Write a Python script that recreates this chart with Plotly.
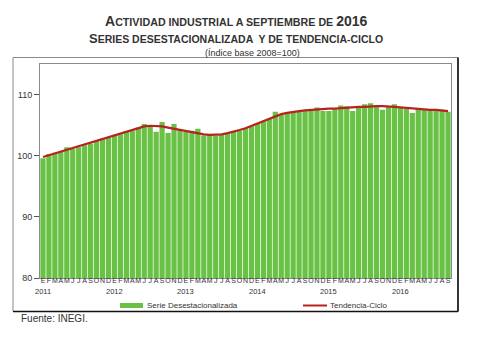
import plotly.graph_objects as go

month_letters = ["E", "F", "M", "A", "M", "J", "J", "A", "S", "O", "N", "D"]
years = [2011, 2012, 2013, 2014, 2015, 2016]

serie_desest = [
    99.6, 100.3, 100.5, 100.6, 101.4, 101.1, 101.4, 101.7, 102.0, 102.4, 102.8, 102.9,
    103.3, 103.5, 104.0, 104.1, 104.6, 105.2, 104.9, 103.9, 105.5, 103.7, 105.2, 104.2,
    104.0, 104.1, 104.4, 103.3, 103.4, 103.3, 103.4, 103.7, 103.9, 104.1, 104.5, 104.8,
    105.3, 105.6, 106.0, 107.2, 106.7, 107.0, 107.1, 107.3, 107.3, 107.5, 107.9, 107.3,
    107.3, 107.6, 108.2, 108.1, 107.3, 107.9, 108.4, 108.6, 108.0, 107.5, 108.0, 108.4,
    107.8, 107.7, 107.0, 107.5, 107.6, 107.5, 107.6, 107.5, 107.2,
]
tendencia = [
    99.8, 100.1, 100.4, 100.7, 100.9, 101.2, 101.5, 101.8, 102.1, 102.4, 102.7, 103.0,
    103.3, 103.6, 103.9, 104.2, 104.5, 104.8, 104.9, 104.9, 104.8, 104.6, 104.4, 104.2,
    104.0, 103.8, 103.6, 103.5, 103.4, 103.4, 103.5, 103.7, 103.9, 104.2, 104.5, 104.9,
    105.3, 105.7, 106.1, 106.5, 106.8, 107.0, 107.2, 107.3, 107.4, 107.5, 107.6, 107.6,
    107.7, 107.7, 107.8, 107.8, 107.9, 108.0, 108.0, 108.1, 108.1, 108.1, 108.1, 108.0,
    107.9, 107.8, 107.7, 107.6, 107.6, 107.5, 107.5, 107.4, 107.3,
]
y_ticks = [80, 90, 100, 110]

n = len(serie_desest)
idx = list(range(n))
ticktext = [month_letters[i % 12] for i in idx]

BAR = "#69c146"
RED = "#b8221e"
FONT = "Liberation Sans, Arial, sans-serif"

fig = go.Figure()
fig.add_trace(go.Bar(x=idx, y=serie_desest, marker=dict(color=BAR, line=dict(width=0)),
                     name="Serie Desestacionalizada", showlegend=False))
fig.add_trace(go.Scatter(x=idx, y=tendencia, mode="lines", line=dict(color=RED, width=2.2),
                         name="Tendencia-Ciclo", showlegend=False))

L, R, T, B = 40, 451, 64, 278
W, H = 480, 337
pw, ph = R - L, B - T


def px(x):
    return (x - L) / pw


def py(y):
    return (B - y) / ph


shapes = [
    dict(type="rect", xref="paper", yref="paper", x0=px(13), x1=px(458), y0=py(311.5), y1=py(57.5),
         line=dict(color="#8a8a8a", width=1)),
    dict(type="line", xref="paper", yref="paper", x0=px(458), x1=px(458), y0=py(311.5), y1=py(57.5),
         line=dict(color="#111111", width=1.6)),
    dict(type="line", xref="paper", yref="paper", x0=px(13), x1=px(458), y0=py(311.5), y1=py(311.5),
         line=dict(color="#111111", width=1.6)),
    dict(type="rect", xref="paper", yref="paper", x0=px(120), x1=px(143), y0=py(308), y1=py(303),
         line=dict(width=0), fillcolor=BAR),
    dict(type="line", xref="paper", yref="paper", x0=px(303), x1=px(327), y0=py(305.5), y1=py(305.5),
         line=dict(color=RED, width=2)),
]

title1 = ('<b><span style="font-size:14px">A</span>CTIVIDAD INDUSTRIAL A SEPTIEMBRE DE '
          '<span style="font-size:14px">2016</span></b>')
title2 = '<b><span style="font-size:13px">S</span>ERIES DESESTACIONALIZADA  Y DE TENDENCIA-CICLO</b>'

annotations = [
    dict(text=title1, xref="paper", yref="paper", x=px(236), y=py(21), showarrow=False,
         font=dict(family=FONT, size=10.7, color="#333333"), xanchor="center", yanchor="middle"),
    dict(text=title2, xref="paper", yref="paper", x=px(236), y=py(38), showarrow=False,
         font=dict(family=FONT, size=10.5, color="#333333"), xanchor="center", yanchor="middle"),
    dict(text="(Índice base 2008=100)", xref="paper", yref="paper", x=px(252), y=py(53), showarrow=False,
         font=dict(family=FONT, size=9, color="#333333"), xanchor="center", yanchor="middle"),
    dict(text="Serie Desestacionalizada", xref="paper", yref="paper", x=px(145), y=py(305.5), showarrow=False,
         font=dict(family=FONT, size=8, color="#333333"), xanchor="left", yanchor="middle"),
    dict(text="Tendencia-Ciclo", xref="paper", yref="paper", x=px(328), y=py(305.5), showarrow=False,
         font=dict(family=FONT, size=8, color="#333333"), xanchor="left", yanchor="middle"),
    dict(text="Fuente: INEGI.", xref="paper", yref="paper", x=px(19), y=py(318), showarrow=False,
         font=dict(family=FONT, size=10, color="#333333"), xanchor="left", yanchor="middle"),
]
for k, yr in enumerate(years):
    annotations.append(dict(text=str(yr), xref="x", yref="paper", x=k * 12, y=py(291.5), showarrow=False,
                            font=dict(family=FONT, size=7.5, color="#333333"),
                            xanchor="center", yanchor="middle", borderpad=0))

fig.update_layout(
    width=W, height=H,
    margin=dict(l=L, r=W - R, t=T, b=H - B, pad=0),
    paper_bgcolor="white", plot_bgcolor="white",
    bargap=0.12,
    showlegend=False,
    shapes=shapes,
    annotations=annotations,
    font=dict(family=FONT, size=8, color="#333333"),
)
fig.update_xaxes(
    range=[-0.5, n - 0.5], tickmode="array", tickvals=idx, ticktext=ticktext, tickangle=0,
    showgrid=False, zeroline=False, showline=True, linecolor="#8a8a8a", linewidth=1, mirror=True,
    ticks="", ticklabelstandoff=-4, tickfont=dict(family=FONT, size=7, color="#333333"), fixedrange=True,
)
fig.update_yaxes(
    range=[80, 115], tickmode="array", tickvals=y_ticks, ticks="outside", ticklen=5, tickcolor="#555555",
    showgrid=False, zeroline=False, showline=True, linecolor="#8a8a8a", linewidth=1, mirror=True,
    tickfont=dict(family=FONT, size=9, color="#333333"), fixedrange=True,
)

fig.write_html("out.html", config={"displayModeBar": False})
